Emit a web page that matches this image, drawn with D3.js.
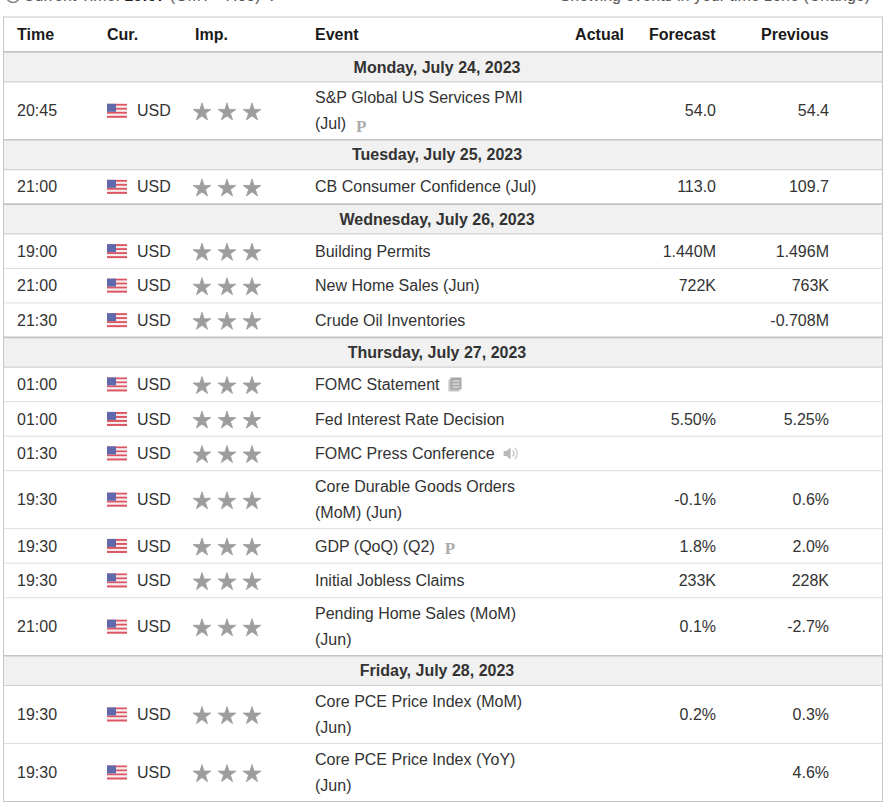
<!DOCTYPE html>
<html>
<head>
<meta charset="utf-8">
<script src="https://cdn.jsdelivr.net/npm/d3@7"></script>
<style>
  body { margin: 0; background: #fff; }
  svg text { font-family: "Liberation Sans", Arial, sans-serif; }
</style>
</head>
<body>
<div id="calendar"></div>
<script>
// Calendar data
const dayLabels = [
    "Monday, July 24, 2023",
    "Tuesday, July 25, 2023",
    "Wednesday, July 26, 2023",
    "Thursday, July 27, 2023",
    "Friday, July 28, 2023"
];
const eventDay = [0, 1, 2, 2, 2, 3, 3, 3, 3, 3, 3, 3, 4, 4];
const eventTimes = ["20:45", "21:00", "19:00", "21:00", "21:30", "01:00", "01:00", "01:30",
    "19:30", "19:30", "19:30", "21:00", "19:30", "19:30"];
const eventCurrency = ["USD", "USD", "USD", "USD", "USD", "USD", "USD", "USD",
    "USD", "USD", "USD", "USD", "USD", "USD"];
const eventImportance = [3, 3, 3, 3, 3, 3, 3, 3, 3, 3, 3, 3, 3, 3];
const eventNames = [
    ["S&P Global US Services PMI", "(Jul)"],
    ["CB Consumer Confidence (Jul)"],
    ["Building Permits"],
    ["New Home Sales (Jun)"],
    ["Crude Oil Inventories"],
    ["FOMC Statement"],
    ["Fed Interest Rate Decision"],
    ["FOMC Press Conference"],
    ["Core Durable Goods Orders", "(MoM) (Jun)"],
    ["GDP (QoQ) (Q2)"],
    ["Initial Jobless Claims"],
    ["Pending Home Sales (MoM)", "(Jun)"],
    ["Core PCE Price Index (MoM)", "(Jun)"],
    ["Core PCE Price Index (YoY)", "(Jun)"]
];
const eventIcons = ["prelim", null, null, null, null, "doc", null, "speech",
    null, "prelim", null, null, null, null];
const actualValues = ["", "", "", "", "", "", "", "", "", "", "", "", "", ""];
const forecastValues = ["54.0", "113.0", "1.440M", "722K", "", "", "5.50%", "",
    "-0.1%", "1.8%", "233K", "0.1%", "0.2%", ""];
const previousValues = ["54.4", "109.7", "1.496M", "763K", "-0.708M", "", "5.25%", "",
    "0.6%", "2.0%", "228K", "-2.7%", "0.3%", "4.6%"];
const headerLabels = ["Time", "Cur.", "Imp.", "Event", "Actual", "Forecast", "Previous"];

// Layout
const width = 888, height = 810;
const tableLeft = 3.5, tableRight = 882.5, tableTop = 17;
const headerH = 35, dayH = 29.8, singleH = 34.5, doubleH = 58;
const lineGap = 26;
const fontSize = 16;
const textColor = "#333", headColor = "#1a1a1a";

// columns: x position and anchor
const cols = {
    time: { x: 17, anchor: "start" },
    flag: { x: 107 },
    cur: { x: 137, anchor: "start" },
    imp: { x: 195, anchor: "start" },
    event: { x: 315, anchor: "start" },
    actual: { x: 624, anchor: "end" },
    forecast: { x: 716, anchor: "end" },
    previous: { x: 829, anchor: "end" }
};
// header label positions (left edges, except Actual which is right aligned)
const headerX = [17, 107, 195, 315, 624, 649, 761];

// Build the row list (day separators + events)
const rows = [];
eventDay.forEach((d, i) => {
    if (i === 0 || eventDay[i - 1] !== d) rows.push({ type: "day", label: dayLabels[d] });
    rows.push({
        type: "event",
        time: eventTimes[i],
        cur: eventCurrency[i],
        imp: eventImportance[i],
        name: eventNames[i],
        icon: eventIcons[i],
        actual: actualValues[i],
        forecast: forecastValues[i],
        previous: previousValues[i]
    });
});
rows.forEach(r => {
    r.h = r.type === "day" ? dayH : (r.name.length > 1 ? doubleH : singleH);
});
const offsets = d3.cumsum(rows, r => r.h);
rows.forEach((r, i) => { r.y0 = tableTop + headerH + (i ? offsets[i - 1] : 0); });
const tableBottom = tableTop + headerH + offsets[offsets.length - 1];

const svg = d3.select("#calendar")
    .append("svg")
    .attr("width", width)
    .attr("height", height);

// Cut-off text line above the table (only its lower edge is visible)
const topLine = svg.append("text")
    .attr("x", 23)
    .attr("y", 1)
    .attr("font-size", fontSize)
    .attr("fill", "#555");
topLine.append("tspan").text("Current Time: ");
topLine.append("tspan").attr("font-weight", "bold").attr("fill", "#222").text("19:07");
topLine.append("tspan").text(" (GMT +7:00)  \u2304");
svg.append("circle")
    .attr("cx", 13).attr("cy", -4).attr("r", 6.5)
    .attr("fill", "none").attr("stroke", "#888").attr("stroke-width", 1.5);
svg.append("text")
    .attr("x", 870)
    .attr("y", 1)
    .attr("font-size", fontSize)
    .attr("text-anchor", "end")
    .attr("fill", "#555")
    .text("Showing events in your time zone (Change)");

// Table frame
svg.append("rect")
    .attr("x", tableLeft)
    .attr("y", tableTop)
    .attr("width", tableRight - tableLeft)
    .attr("height", tableBottom - tableTop)
    .attr("fill", "#fff")
    .attr("stroke", "#c6c6c6")
    .attr("stroke-width", 1);

// Header
svg.append("g")
    .selectAll("text")
    .data(headerLabels)
    .enter().append("text")
    .attr("x", (d, i) => headerX[i])
    .attr("y", tableTop + headerH / 2)
    .attr("dy", "0.35em")
    .attr("font-size", fontSize)
    .attr("font-weight", "bold")
    .attr("fill", headColor)
    .attr("text-anchor", d => d === "Actual" ? "end" : "start")
    .text(d => d);

svg.append("line")
    .attr("x1", tableLeft).attr("x2", tableRight)
    .attr("y1", tableTop + headerH).attr("y2", tableTop + headerH)
    .attr("stroke", "#bdbdbd").attr("stroke-width", 2);

// Rows
const rowG = svg.append("g")
    .selectAll("g")
    .data(rows)
    .enter().append("g")
    .attr("transform", d => "translate(0," + d.y0 + ")");

// Day separator rows
const dayRows = rowG.filter(d => d.type === "day");
dayRows.append("rect")
    .attr("x", tableLeft + 0.5)
    .attr("width", tableRight - tableLeft - 1)
    .attr("height", d => d.h)
    .attr("fill", "#f1f1f1");
dayRows.append("line")
    .attr("x1", tableLeft).attr("x2", tableRight)
    .attr("y1", 0).attr("y2", 0)
    .attr("stroke", "#c4c4c4").attr("stroke-width", 1.6);
dayRows.append("line")
    .attr("x1", tableLeft).attr("x2", tableRight)
    .attr("y1", d => d.h).attr("y2", d => d.h)
    .attr("stroke", "#d2d2d2").attr("stroke-width", 1.2);
dayRows.append("text")
    .attr("x", 437)
    .attr("y", d => d.h / 2)
    .attr("dy", "0.35em")
    .attr("text-anchor", "middle")
    .attr("font-size", fontSize)
    .attr("font-weight", "bold")
    .attr("fill", textColor)
    .text(d => d.label);

// Event rows
const evRows = rowG.filter(d => d.type === "event");
evRows.filter(d => {
    const idx = rows.indexOf(d);
    return idx + 1 < rows.length && rows[idx + 1].type === "event";
}).append("line")
    .attr("x1", tableLeft).attr("x2", tableRight)
    .attr("y1", d => d.h).attr("y2", d => d.h)
    .attr("stroke", "#dedede").attr("stroke-width", 1);

function cellText(sel, key, field) {
    sel.append("text")
        .attr("x", cols[key].x)
        .attr("y", d => d.h / 2)
        .attr("dy", "0.35em")
        .attr("text-anchor", cols[key].anchor)
        .attr("font-size", fontSize)
        .attr("fill", textColor)
        .text(d => d[field]);
}
cellText(evRows, "time", "time");
cellText(evRows, "cur", "cur");
cellText(evRows, "actual", "actual");
cellText(evRows, "forecast", "forecast");
cellText(evRows, "previous", "previous");

// US flag
const flag = evRows.append("g")
    .attr("transform", d => "translate(" + cols.flag.x + "," + (d.h / 2 - 7) + ")");
const stripeY = d3.scaleBand().domain(d3.range(7)).range([0, 14]);
flag.selectAll("rect.stripe")
    .data(d3.range(7))
    .enter().append("rect")
    .attr("class", "stripe")
    .attr("x", 0)
    .attr("y", i => stripeY(i))
    .attr("width", 20)
    .attr("height", stripeY.bandwidth())
    .attr("fill", i => i % 2 === 0 ? "#dc5560" : "#f4eef0");
flag.append("rect")
    .attr("width", 9).attr("height", 8)
    .attr("fill", "#6169ad");

// Importance stars
const starX = d3.scaleLinear().domain([0, 1]).range([202, 227]);
const star = d3.symbol().type(d3.symbolStar).size(100);
evRows.each(function(d) {
    d3.select(this).selectAll("path.star")
        .data(d3.range(d.imp))
        .enter().append("path")
        .attr("class", "star")
        .attr("transform", i => "translate(" + starX(i) + "," + (d.h / 2 + 1.5) + ")")
        .attr("d", star)
        .attr("fill", "#9d9d9d")
        .attr("stroke", "#9d9d9d")
        .attr("stroke-width", 0.8)
        .attr("stroke-linejoin", "round");
});

// Event names (one or two lines) and trailing icons
evRows.each(function(d) {
    const g = d3.select(this);
    const n = d.name.length;
    let last;
    d.name.forEach((line, i) => {
        last = g.append("text")
            .attr("x", cols.event.x)
            .attr("y", d.h / 2 + (i - (n - 1) / 2) * lineGap)
            .attr("dy", "0.35em")
            .attr("font-size", fontSize)
            .attr("fill", textColor)
            .text(line);
    });
    if (!d.icon) return;
    const lineY = d.h / 2 + ((n - 1) / 2) * lineGap;
    const ix = cols.event.x + last.node().getComputedTextLength() + 9;
    if (d.icon === "prelim") {
        g.append("text")
            .attr("x", ix + 1)
            .attr("y", lineY + 2)
            .attr("dy", "0.35em")
            .attr("font-size", 17)
            .attr("font-weight", "bold")
            .attr("fill", "#ababab")
            .style("font-family", "'Liberation Serif', 'Times New Roman', serif")
            .text("P");
    } else if (d.icon === "doc") {
        const ic = g.append("g").attr("transform", "translate(" + ix + "," + (lineY - 7) + ")");
        ic.append("rect").attr("x", 0).attr("y", 2).attr("width", 11).attr("height", 12).attr("fill", "#c4c4c4");
        ic.append("rect").attr("x", 2).attr("y", 0).attr("width", 11).attr("height", 12).attr("fill", "#a8a8a8");
        ic.selectAll("rect.ln")
            .data([3, 6, 9])
            .enter().append("rect")
            .attr("class", "ln")
            .attr("x", 4).attr("y", v => v).attr("width", 7).attr("height", 1.2)
            .attr("fill", "#e6e6e6");
    } else if (d.icon === "speech") {
        const ic = g.append("g").attr("transform", "translate(" + ix + "," + lineY + ")");
        ic.append("path")
            .attr("d", "M0,-2.5 H3 L7,-6 V6 L3,2.5 H0 Z")
            .attr("fill", "#b8b8b8");
        ic.append("path")
            .attr("d", "M9,-3 A4,4 0 0 1 9,3")
            .attr("fill", "none").attr("stroke", "#c4c4c4").attr("stroke-width", 1.5);
        ic.append("path")
            .attr("d", "M11,-5.5 A7,7 0 0 1 11,5.5")
            .attr("fill", "none").attr("stroke", "#d0d0d0").attr("stroke-width", 1.5);
    }
});
</script>
</body>
</html>
